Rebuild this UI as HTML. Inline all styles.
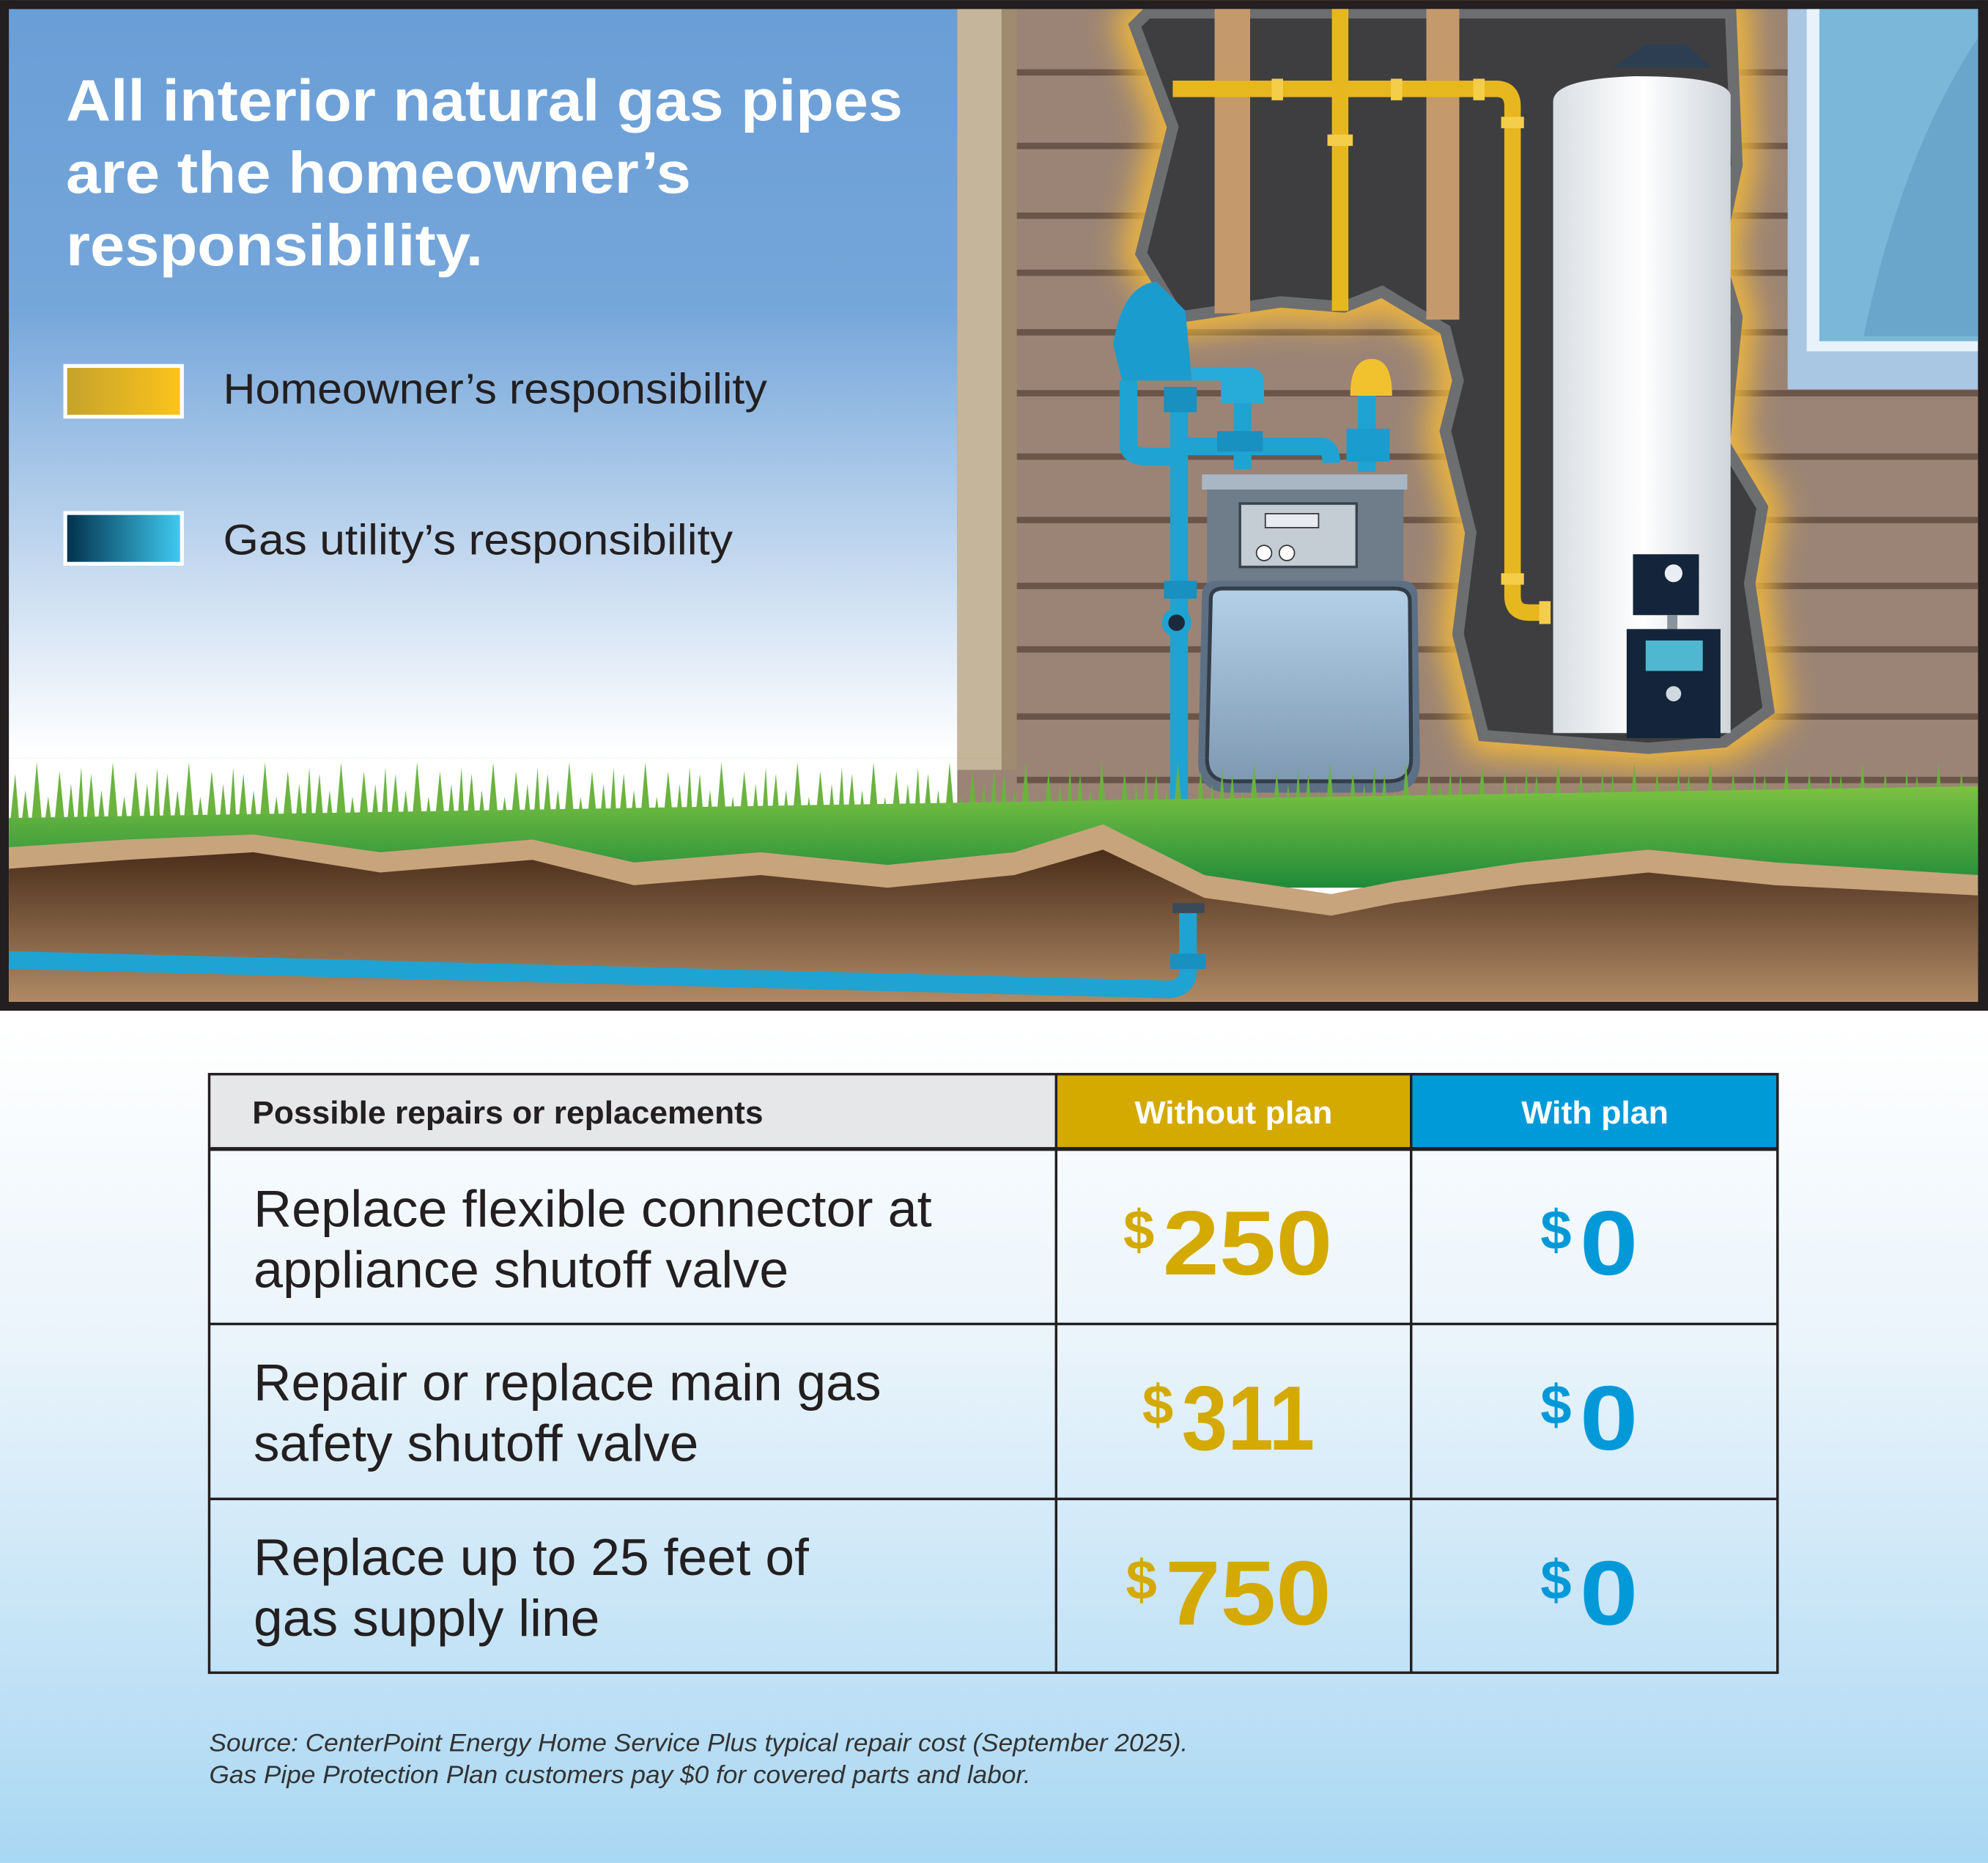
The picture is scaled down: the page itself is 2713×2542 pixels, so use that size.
<!DOCTYPE html>
<html><head><meta charset="utf-8"><style>
html,body{margin:0;padding:0;background:#fff}
svg{display:block}
text{font-family:"Liberation Sans",sans-serif}
</style></head><body>
<svg width="2713" height="2542" viewBox="0 0 1568 1469" xmlns="http://www.w3.org/2000/svg">
<defs>
<linearGradient id="page" x1="0" y1="0" x2="0" y2="1"><stop offset="0.55" stop-color="#ffffff"/><stop offset="0.72" stop-color="#eaf4fb"/><stop offset="1" stop-color="#a9d7f3"/></linearGradient>
<linearGradient id="sky" x1="0" y1="0" x2="0" y2="1"><stop offset="0" stop-color="#6a9ed6"/><stop offset="0.3" stop-color="#75a6da"/><stop offset="0.75" stop-color="#ffffff"/></linearGradient>
<linearGradient id="gold" x1="0" y1="0" x2="1" y2="0"><stop offset="0" stop-color="#c4a22c"/><stop offset="1" stop-color="#fdc41a"/></linearGradient>
<linearGradient id="blu" x1="0" y1="0" x2="1" y2="0"><stop offset="0" stop-color="#00304a"/><stop offset="1" stop-color="#40ccf4"/></linearGradient>
<linearGradient id="soil" x1="0" y1="0" x2="0" y2="1"><stop offset="0" stop-color="#4a2d1a"/><stop offset="1" stop-color="#b08a66"/></linearGradient>
<linearGradient id="heater" x1="0" y1="0" x2="1" y2="0"><stop offset="0" stop-color="#d9dee3"/><stop offset="0.5" stop-color="#ffffff"/><stop offset="1" stop-color="#cfd5db"/></linearGradient>
<linearGradient id="meter" x1="0" y1="0" x2="0" y2="1"><stop offset="0" stop-color="#b4cfe8"/><stop offset="1" stop-color="#7f99b3"/></linearGradient>
<linearGradient id="grassg" x1="0" y1="0" x2="0" y2="1"><stop offset="0" stop-color="#7cc242"/><stop offset="1" stop-color="#1f8a3a"/></linearGradient>
<pattern id="spikes" x="7" y="598" width="60" height="60" patternUnits="userSpaceOnUse"><polygon points="0,60 5,12 9,60 13,25 17,60 22,3 27,60 31,30 35,60 40,10 45,60 49,20 53,60 57,7 60,60" fill="#6ab33e"/></pattern>
<filter id="blur"><feGaussianBlur stdDeviation="12"/></filter>
</defs>
<rect width="1568" height="1469" fill="url(#page)"/>
<rect x="0" y="0" width="1568" height="797" fill="#231f20"/>
<rect x="7" y="7" width="1553" height="783" fill="url(#sky)"/>
<rect x="755" y="7" width="805" height="640" fill="#9b8475"/>
<rect x="755" y="7" width="35" height="600" fill="#c5b59b"/>
<rect x="790" y="7" width="12" height="600" fill="#a08a70"/>
<g stroke="#6b5549" stroke-width="5">
<line x1="802" y1="57" x2="1560" y2="57"/><line x1="802" y1="115" x2="1560" y2="115"/><line x1="802" y1="170" x2="1560" y2="170"/><line x1="802" y1="215" x2="1560" y2="215"/><line x1="802" y1="262" x2="1560" y2="262"/><line x1="802" y1="310" x2="1560" y2="310"/><line x1="802" y1="360" x2="1560" y2="360"/><line x1="802" y1="410" x2="1560" y2="410"/><line x1="802" y1="462" x2="1560" y2="462"/><line x1="802" y1="512" x2="1560" y2="512"/><line x1="802" y1="565" x2="1560" y2="565"/><line x1="802" y1="615" x2="1560" y2="615"/>
</g>
<rect x="1410" y="7" width="150" height="300" fill="#a9c6e2"/>
<rect x="1425" y="7" width="135" height="270" fill="#e8f2fa"/>
<rect x="1435" y="7" width="125" height="262" fill="#7ab7d8"/>
<path d="M1470,265 Q1500,120 1560,30 L1560,265Z" fill="#6aa6cc"/>
<polygon points="905,10 895,20 925,100 900,200 930,250 1010,238 1060,242 1090,230 1140,260 1150,300 1140,340 1160,420 1150,500 1170,580 1300,590 1360,585 1395,560 1380,460 1390,400 1360,350 1370,250 1355,200 1370,130 1365,10" fill="none" stroke="#f2b83a" stroke-width="30" filter="url(#blur)"/>
<polygon points="905,10 895,20 925,100 900,200 930,250 1010,238 1060,242 1090,230 1140,260 1150,300 1140,340 1160,420 1150,500 1170,580 1300,590 1360,585 1395,560 1380,460 1390,400 1360,350 1370,250 1355,200 1370,130 1365,10" fill="#3e3e40" stroke="#6d6e70" stroke-width="9"/>
<rect x="0" y="0" width="1568" height="7" fill="#231f20"/>
<rect x="958" y="7" width="28" height="240" fill="#c49a6c"/>
<rect x="1125" y="7" width="26" height="245" fill="#c49a6c"/>
<g fill="none" stroke="#e7b71f" stroke-width="13" stroke-linecap="butt">
<path d="M925,70 H1180 Q1193,70 1193,84 V470 Q1193,483 1206,483 H1222"/>
<path d="M1057,7 V245"/>
</g>
<g fill="#f4cd4a"><rect x="1003" y="62" width="9" height="17"/><rect x="1097" y="62" width="9" height="17"/><rect x="1162" y="62" width="9" height="17"/><rect x="1184" y="92" width="18" height="9"/><rect x="1047" y="106" width="20" height="9"/><rect x="1184" y="452" width="18" height="9"/><rect x="1214" y="474" width="9" height="18"/></g>
<polygon points="1272,53 1298,35 1330,35 1350,53" fill="#2d3d52"/>
<path d="M1225,80 Q1225,62 1290,60 Q1362,60 1365,75 L1365,578 L1225,578Z" fill="url(#heater)"/>
<rect x="1288" y="437" width="52" height="48" fill="#14243a"/>
<circle cx="1320" cy="452" r="7" fill="#e8eef4"/>
<rect x="1315" y="485" width="8" height="12" fill="#8a929a"/>
<rect x="1283" y="496" width="74" height="86" fill="#14243a"/>
<rect x="1298" y="505" width="45" height="24" fill="#4fb8d0"/>
<circle cx="1320" cy="547" r="6" fill="#d0d8e0"/>
<rect x="952" y="375" width="155" height="90" rx="6" fill="#6f7c8a"/>
<rect x="948" y="374" width="162" height="12" fill="#a9b6c4"/>
<rect x="978" y="397" width="92" height="50" fill="#c4ccd4" stroke="#3a4350" stroke-width="2"/>
<rect x="998" y="405" width="42" height="11" fill="#e8ecf0" stroke="#333" stroke-width="1"/>
<circle cx="997" cy="436" r="6" fill="#fff" stroke="#333"/><circle cx="1015" cy="436" r="6" fill="#fff" stroke="#333"/>
<path d="M948,470 Q948,458 960,458 L1105,458 Q1118,458 1118,470 L1120,600 Q1120,625 1095,625 L970,625 Q945,625 945,600Z" fill="#5c6f84"/>
<path d="M955,472 Q955,464 965,464 L1100,464 Q1112,464 1112,474 L1113,598 Q1113,616 1095,616 L970,616 Q952,616 952,598Z" fill="url(#meter)" stroke="#333d48" stroke-width="3"/>
<g fill="none" stroke="#1ea3d3" stroke-width="14">
<path d="M930,320 V655"/>
<path d="M930,352 H1042 Q1050,352 1050,365"/>
<path d="M980,290 V370"/>
<path d="M1078,310 V372"/>
<path d="M890,300 V350 Q890,360 905,360 H930"/>
</g>
<path d="M878,272 Q885,225 912,222 L935,245 L940,300 L885,300Z" fill="#1b9cce"/>
<path d="M940,290 H985 Q997,290 997,303 V318 H963 V300 H940Z" fill="#27abd9"/>
<rect x="918" y="305" width="26" height="20" fill="#1890c0"/>
<rect x="960" y="340" width="36" height="16" fill="#1890c0"/>
<rect x="1062" y="338" width="34" height="26" fill="#1b9cce"/>
<path d="M1065,312 Q1065,283 1082,283 Q1098,283 1098,312Z" fill="#f1c22e"/>
<rect x="918" y="458" width="26" height="14" fill="#1890c0"/>
<circle cx="928" cy="491" r="9" fill="#1a2a3a" stroke="#1ea3d3" stroke-width="5"/>
<rect x="7" y="598" width="1553" height="60" fill="url(#spikes)"/>
<polygon points="7,645 1560,620 1560,700 7,700" fill="url(#grassg)"/>
<polygon points="7,668 100,662 200,658 300,672 420,662 500,680 600,672 700,682 800,672 870,650 950,690 1050,705 1100,695 1200,680 1300,670 1400,680 1560,690 1560,790 7,790" fill="#c7a47c"/>
<polygon points="7,685 100,678 200,672 300,688 420,678 500,698 600,690 700,700 800,690 870,670 950,708 1050,722 1100,712 1200,698 1300,688 1400,698 1560,706 1560,790 7,790" fill="url(#soil)"/>
<g fill="none" stroke="#1ea3d3" stroke-width="14">
<path d="M7,757 L915,780 Q937,782 937,765 V712"/>
</g>
<rect x="925" y="712" width="25" height="8" fill="#3a4a5a"/>
<rect x="923" y="752" width="28" height="12" fill="#1890c0"/>
<g fill="#fff" font-weight="bold" font-size="46">
<text x="52" y="95" textLength="660" lengthAdjust="spacingAndGlyphs">All interior natural gas pipes</text>
<text x="52" y="152" textLength="493" lengthAdjust="spacingAndGlyphs">are the homeowner’s</text>
<text x="52" y="209" textLength="329" lengthAdjust="spacingAndGlyphs">responsibility.</text>
</g>
<rect x="51.5" y="288.5" width="92" height="40" fill="url(#gold)" stroke="#fff" stroke-width="3"/>
<rect x="51.5" y="404.5" width="92" height="40" fill="url(#blu)" stroke="#fff" stroke-width="3"/>
<g fill="#231f20" font-size="34">
<text x="176" y="318" textLength="429" lengthAdjust="spacingAndGlyphs">Homeowner’s responsibility</text>
<text x="176" y="437" textLength="402" lengthAdjust="spacingAndGlyphs">Gas utility’s responsibility</text>
</g>
<rect x="165" y="847" width="668" height="59" fill="#e6e7e8"/>
<rect x="833" y="847" width="280" height="59" fill="#d4a900"/>
<rect x="1113" y="847" width="289" height="59" fill="#009ad9"/>
<g stroke="#231f20" stroke-width="2" fill="none">
<rect x="165" y="847" width="1237" height="472"/>
<line x1="165" y1="906" x2="1402" y2="906" stroke-width="3"/>
<line x1="165" y1="1044" x2="1402" y2="1044"/>
<line x1="165" y1="1182" x2="1402" y2="1182"/>
<line x1="833" y1="847" x2="833" y2="1319"/>
<line x1="1113" y1="847" x2="1113" y2="1319"/>
</g>
<g font-weight="bold" font-size="25">
<text x="199" y="886" fill="#231f20" textLength="403" lengthAdjust="spacingAndGlyphs">Possible repairs or replacements</text>
<text x="895" y="886" fill="#fff" textLength="156" lengthAdjust="spacingAndGlyphs">Without plan</text>
<text x="1200" y="886" fill="#fff" textLength="116" lengthAdjust="spacingAndGlyphs">With plan</text>
</g>
<g fill="#231f20" font-size="41">
<text x="200" y="967" textLength="535" lengthAdjust="spacingAndGlyphs">Replace flexible connector at</text>
<text x="200" y="1015" textLength="422" lengthAdjust="spacingAndGlyphs">appliance shutoff valve</text>
<text x="200" y="1104" textLength="495" lengthAdjust="spacingAndGlyphs">Repair or replace main gas</text>
<text x="200" y="1152" textLength="351" lengthAdjust="spacingAndGlyphs">safety shutoff valve</text>
<text x="200" y="1242" textLength="438" lengthAdjust="spacingAndGlyphs">Replace up to 25 feet of</text>
<text x="200" y="1290" textLength="273" lengthAdjust="spacingAndGlyphs">gas supply line</text>
</g>
<g font-weight="bold" fill="#d4a900">
<text x="886" y="985" font-size="44">$</text><text x="917" y="1005" font-size="72" textLength="134" lengthAdjust="spacingAndGlyphs">250</text>
<text x="901" y="1123" font-size="44">$</text><text x="932" y="1143" font-size="72" textLength="105" lengthAdjust="spacingAndGlyphs">311</text>
<text x="888" y="1261" font-size="44">$</text><text x="919" y="1281" font-size="72" textLength="131" lengthAdjust="spacingAndGlyphs">750</text>
</g>
<g font-weight="bold" fill="#0399d8">
<text x="1215" y="985" font-size="44">$</text><text x="1246" y="1005" font-size="72" textLength="46" lengthAdjust="spacingAndGlyphs">0</text>
<text x="1215" y="1123" font-size="44">$</text><text x="1246" y="1143" font-size="72" textLength="46" lengthAdjust="spacingAndGlyphs">0</text>
<text x="1215" y="1261" font-size="44">$</text><text x="1246" y="1281" font-size="72" textLength="46" lengthAdjust="spacingAndGlyphs">0</text>
</g>
<g fill="#333" font-size="20" font-style="italic">
<text x="165" y="1381" textLength="772" lengthAdjust="spacingAndGlyphs">Source: CenterPoint Energy Home Service Plus typical repair cost (September 2025).</text>
<text x="165" y="1406" textLength="648" lengthAdjust="spacingAndGlyphs">Gas Pipe Protection Plan customers pay $0 for covered parts and labor.</text>
</g>
</svg>
</body></html>
